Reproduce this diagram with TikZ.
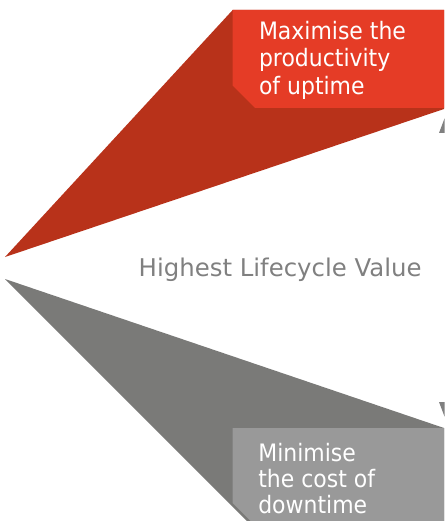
\documentclass[tikz,border=0pt]{standalone}
\usepackage{fontspec}
\setmainfont{DejaVu Sans}
\newfontfamily\boxfont[FakeStretch=0.915]{DejaVu Sans}
\definecolor{darkred}{HTML}{B8321A}
\definecolor{lightred}{HTML}{E53C26}
\definecolor{darkgrey}{HTML}{7A7A78}
\definecolor{lightgrey}{HTML}{999999}
\definecolor{midgrey}{HTML}{808080}
\begin{document}
\begin{tikzpicture}[x=1pt,y=-1pt,
  boxtext/.style={anchor=base west,inner sep=0pt,text=white,font=\boxfont\fontsize{24}{28}\selectfont},
  midtext/.style={anchor=base west,inner sep=0pt,text=midgrey,font=\fontsize{24.4}{28}\selectfont}]
\useasboundingbox (0,0) rectangle (444,521);
\fill[white] (0,0) rectangle (444,521);
% upper (red) wedge and box
\fill[darkred] (5,257) -- (232.7,10) -- (444,10) -- (444,109) -- cycle;
\fill[lightred] (232.7,10) -- (444,10) -- (444,108) -- (255,108) -- (232.7,85.5) -- cycle;
% lower (grey) wedge and box
\fill[darkgrey] (5,279) -- (444,428) -- (444,521) -- (247,521) -- cycle;
\fill[lightgrey] (232.7,428) -- (444,428) -- (444,521) -- (250.7,521) -- (232.7,503) -- cycle;
% cut-off arrow heads at right edge
\fill[midgrey] (439,133) -- (444.5,118.5) -- (444.5,133) -- cycle;
\fill[midgrey] (439,402) -- (444.5,402) -- (444.5,416.5) -- cycle;
% texts
\node[boxtext] (m1) at (258.8,39.3) {Maximise the};
\node[boxtext] (m2) at (258.8,66.8) {productivity};
\node[boxtext] (m3) at (258.8,94.3) {of uptime};
\node[midtext] (hv) at (138.5,276.7) {Highest Lifecycle Value};
\node[boxtext] (n1) at (258.1,461) {Minimise};
\node[boxtext] (n2) at (258.1,487) {the cost of};
\node[boxtext] (n3) at (258.1,513.3) {downtime};
\end{tikzpicture}
\end{document}
